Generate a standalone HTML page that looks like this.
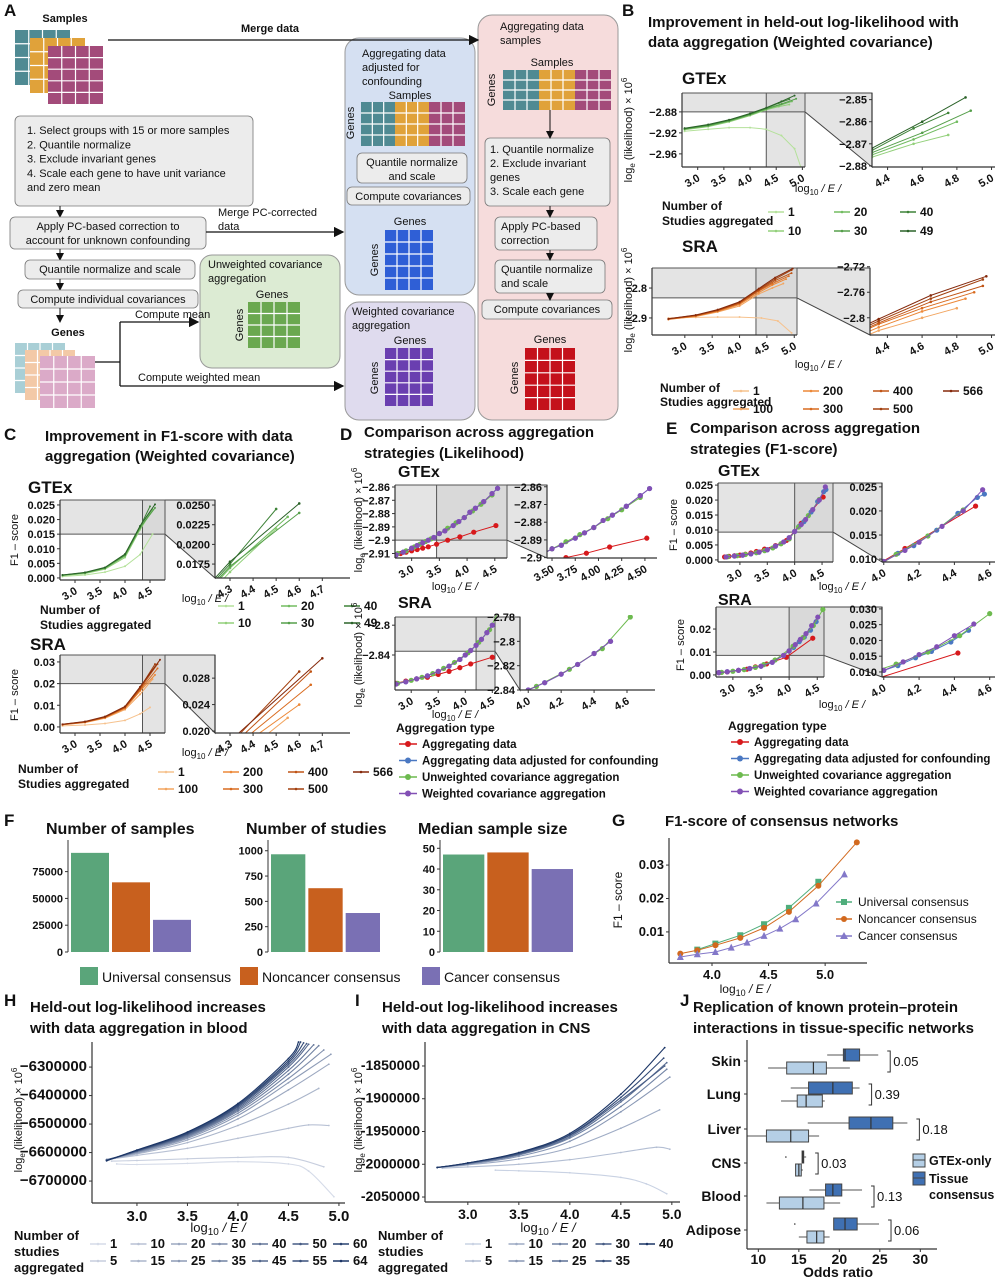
<!DOCTYPE html>
<html><head><meta charset="utf-8">
<style>
html,body{margin:0;padding:0;background:#fff;}
svg{display:block;font-family:"Liberation Sans",Arial,sans-serif;}
</style></head>
<body>
<svg id="fig" width="1003" height="1280" viewBox="0 0 1003 1280" xmlns="http://www.w3.org/2000/svg">
<defs>
<marker id="ar" markerWidth="8" markerHeight="8" refX="7" refY="4" orient="auto"><path d="M0,0 L8,4 L0,8 z" fill="#111"/></marker>
</defs>
</svg>
<script>
// ---------- DATA ----------
const bgCats=['1','10','20','30','40','49'];
const bgX=[[2.75,3.2,3.6,4.0,4.3,4.6,4.85,4.97],[2.75,3.2,3.6,4.0,4.31,4.55,4.75],[2.75,3.2,3.6,4.0,4.31,4.55,4.8],[2.75,3.2,3.6,4.0,4.31,4.6,4.88],[2.75,3.2,3.6,4.0,4.31,4.55,4.75],[2.75,3.2,3.6,4.0,4.31,4.6,4.85]];
const bgY=[[-2.917,-2.913,-2.91,-2.91,-2.913,-2.925,-2.95,-2.985],[-2.914,-2.908,-2.899,-2.887,-2.876,-2.870,-2.866],[-2.913,-2.907,-2.898,-2.886,-2.875,-2.868,-2.860],[-2.912,-2.906,-2.897,-2.885,-2.874,-2.865,-2.855],[-2.912,-2.905,-2.896,-2.884,-2.873,-2.863,-2.856],[-2.911,-2.904,-2.895,-2.883,-2.872,-2.860,-2.849]];
const bsCats=['1','100','200','300','400','500','566'];
const bsX=[[2.7,3.2,3.6,4.0,4.4,4.7,4.95],[2.7,3.2,3.6,4.0,4.35,4.6,4.8],[2.7,3.2,3.6,4.0,4.35,4.6,4.85],[2.7,3.2,3.6,4.0,4.35,4.6,4.9],[2.7,3.2,3.6,4.0,4.35,4.65,4.95],[2.7,3.2,3.6,4.0,4.35,4.65,4.95],[2.7,3.2,3.6,4.0,4.35,4.65,4.97]];
const bsY=[[-2.90,-2.898,-2.897,-2.897,-2.9,-2.91,-2.95],[-2.905,-2.895,-2.88,-2.86,-2.82,-2.80,-2.785],[-2.905,-2.894,-2.878,-2.855,-2.815,-2.79,-2.77],[-2.904,-2.893,-2.876,-2.852,-2.81,-2.785,-2.76],[-2.904,-2.892,-2.875,-2.85,-2.808,-2.775,-2.75],[-2.903,-2.891,-2.874,-2.848,-2.805,-2.77,-2.74],[-2.903,-2.89,-2.872,-2.846,-2.802,-2.765,-2.735]];
const cgX=[[2.75,3.2,3.6,4.0,4.3,4.55],[2.75,3.2,3.6,4.0,4.3,4.5],[2.75,3.2,3.6,4.0,4.3,4.55],[2.75,3.2,3.6,4.0,4.3,4.6],[2.75,3.2,3.6,4.0,4.3,4.5],[2.75,3.2,3.6,4.0,4.3,4.6]];
const cgY=[[.0005,.001,.002,.004,.008,.015],[.0008,.0015,.003,.007,.0165,.022],[.0009,.0017,.0033,.0075,.017,.0235],[.0009,.0018,.0034,.0078,.0172,.024],[.001,.0018,.0035,.008,.0175,.0245],[.001,.0019,.0036,.0082,.0178,.0252]];
const csX=[[2.75,3.2,3.6,4.0,4.3,4.5],[2.75,3.2,3.6,4.0,4.3,4.55],[2.75,3.2,3.6,4.0,4.3,4.6],[2.75,3.2,3.6,4.0,4.3,4.65],[2.75,3.2,3.6,4.0,4.3,4.65],[2.75,3.2,3.6,4.0,4.3,4.6],[2.75,3.2,3.6,4.0,4.3,4.7]];
const csY=[[.0005,.0009,.0016,.003,.006,.009],[.001,.002,.004,.008,.015,.022],[.001,.0021,.0042,.0085,.0165,.024],[.0011,.0022,.0044,.0088,.017,.027],[.0011,.0023,.0045,.009,.0175,.029],[.0012,.0024,.0046,.0092,.018,.029],[.0012,.0025,.0048,.0095,.0185,.031]];
const aggTypes=['Aggregating data','Aggregating data adjusted for confounding','Unweighted covariance aggregation','Weighted covariance aggregation'];
const dgX=[[2.72,2.8,2.9,3.0,3.1,3.2,3.3,3.45,3.65,3.87,4.12,4.52],[2.72,2.85,3.0,3.1,3.2,3.3,3.4,3.5,3.6,3.75,3.85,3.95,4.05,4.15,4.3,4.45,4.55],[2.75,2.9,3.05,3.15,3.25,3.35,3.5,3.65,3.8,3.95,4.1,4.25,4.45],[2.72,2.85,3.0,3.1,3.2,3.3,3.4,3.5,3.6,3.75,3.85,3.95,4.05,4.15,4.3,4.45,4.55]];
const dgY=[[-2.911,-2.910,-2.909,-2.908,-2.907,-2.906,-2.905,-2.903,-2.900,-2.8975,-2.894,-2.889],[-2.911,-2.909,-2.906,-2.904,-2.902,-2.900,-2.898,-2.895,-2.893,-2.889,-2.886,-2.883,-2.879,-2.876,-2.871,-2.865,-2.861],[-2.910,-2.908,-2.905,-2.903,-2.901,-2.899,-2.895,-2.891,-2.887,-2.883,-2.878,-2.873,-2.866],[-2.911,-2.909,-2.906,-2.904,-2.902,-2.900,-2.898,-2.895,-2.893,-2.889,-2.886,-2.883,-2.879,-2.876,-2.871,-2.865,-2.861]];
const dsX=[[2.72,2.9,3.1,3.3,3.5,3.7,3.9,4.1,4.5],[2.72,2.9,3.1,3.3,3.5,3.7,3.9,4.0,4.1,4.2,4.3,4.4,4.5],[2.75,3.0,3.2,3.4,3.6,3.8,4.05,4.25,4.45,4.62],[2.72,2.9,3.1,3.3,3.5,3.7,3.9,4.0,4.1,4.2,4.3,4.4,4.5]];
const dsY=[[-2.878,-2.875,-2.872,-2.870,-2.866,-2.862,-2.857,-2.852,-2.843],[-2.879,-2.876,-2.872,-2.868,-2.862,-2.855,-2.846,-2.840,-2.834,-2.827,-2.819,-2.810,-2.800],[-2.878,-2.874,-2.870,-2.865,-2.858,-2.850,-2.837,-2.823,-2.806,-2.780],[-2.879,-2.876,-2.872,-2.868,-2.862,-2.855,-2.846,-2.840,-2.834,-2.827,-2.819,-2.810,-2.800]];
const egX=[[2.72,2.8,2.9,3.0,3.1,3.2,3.3,3.45,3.65,3.85,4.12,4.52],[2.75,2.9,3.05,3.2,3.35,3.5,3.65,3.8,3.9,4.0,4.08,4.17,4.3,4.42,4.53,4.57],[2.78,2.95,3.1,3.3,3.45,3.6,3.75,3.9,4.07,4.25,4.45],[2.75,2.9,3.05,3.2,3.35,3.5,3.65,3.8,3.9,4.0,4.12,4.2,4.33,4.45,4.56]];
const egY=[[.001,.0012,.0014,.0016,.0019,.0023,.0028,.0036,.0048,.0065,.0122,.021],[.001,.0013,.0016,.002,.0026,.0034,.0046,.006,.0074,.0095,.0112,.0128,.016,.0195,.0228,.0235],[.0011,.0014,.0018,.0024,.0031,.004,.0054,.007,.011,.0148,.0202],[.001,.0013,.0016,.002,.0026,.0034,.0046,.006,.0074,.0095,.0118,.0135,.0168,.02,.0244]];
const esX=[[2.75,2.9,3.1,3.25,3.4,3.6,3.95,4.42],[2.75,2.9,3.1,3.3,3.5,3.7,3.9,4.0,4.08,4.18,4.27,4.38,4.48],[2.8,3.0,3.2,3.4,3.55,3.75,4.07,4.25,4.43,4.6],[2.75,2.9,3.1,3.3,3.5,3.7,3.9,4.0,4.11,4.2,4.3,4.4,4.51]];
const esY=[[.001,.0013,.002,.0025,.0035,.0048,.0077,.016],[.001,.0014,.002,.0028,.0038,.0055,.0085,.0105,.012,.0145,.0165,.0195,.0232],[.0011,.0016,.0023,.0033,.0045,.0065,.0125,.0163,.0215,.0285],[.001,.0014,.002,.0028,.0038,.0055,.0085,.0105,.0132,.0155,.018,.0215,.0252]];
const fCats=['Universal consensus','Noncancer consensus','Cancer consensus'];
const fSamples=[92500,65000,30000];
const fStudies=[965,630,385];
const fMedian=[47,48,40];
const gX=[[3.87,4.03,4.25,4.46,4.68,4.94],[3.72,3.87,4.03,4.25,4.46,4.68,4.94,5.28],[3.72,3.87,4.03,4.17,4.31,4.46,4.6,4.74,4.92,5.17]];
const gY=[[.0047,.0065,.009,.0123,.0172,.025],[.0035,.0045,.006,.0082,.0112,.016,.0238,.0368],[.0025,.0033,.004,.0053,.0068,.0088,.011,.0138,.0185,.0272]];
const hCats=['1','5','10','15','20','25','30','35','40','45','50','55','60','64'];
const hX=[[2.8,3.0,3.5,4.0,4.5,4.7,4.95],[2.75,3.0,3.5,4.0,4.5,4.85],[2.7,3.0,3.5,4.0,4.5,4.7,4.9],[2.7,3.0,3.5,4.0,4.5,4.8],[2.7,3.0,3.5,4.0,4.5,4.9],[2.7,3.0,3.5,4.0,4.5,4.92],[2.7,3.0,3.5,4.0,4.5,4.85],[2.7,3.0,3.5,4.0,4.5,4.8],[2.7,3.0,3.5,4.0,4.5,4.75],[2.7,3.0,3.5,4.0,4.5,4.7],[2.7,3.0,3.5,4.0,4.5,4.68],[2.7,3.0,3.5,4.0,4.5,4.65],[2.7,3.0,3.5,4.0,4.5,4.62],[2.7,3.0,3.5,4.0,4.5,4.6]];
const hY=[[-6640,-6642,-6638,-6632,-6640,-6665,-6755],[-6630,-6628,-6622,-6617,-6617,-6650],[-6625,-6610,-6585,-6550,-6515,-6503,-6505],[-6625,-6605,-6565,-6505,-6430,-6375],[-6625,-6602,-6556,-6482,-6380,-6290],[-6625,-6600,-6550,-6470,-6355,-6255],[-6625,-6598,-6546,-6462,-6340,-6240],[-6625,-6597,-6543,-6455,-6325,-6225],[-6626,-6596,-6540,-6450,-6312,-6222],[-6627,-6595,-6537,-6445,-6300,-6220],[-6627,-6594,-6535,-6440,-6292,-6218],[-6628,-6593,-6533,-6436,-6285,-6215],[-6628,-6592,-6530,-6432,-6278,-6212],[-6629,-6591,-6528,-6428,-6270,-6212]];
const iCats=['1','5','10','15','20','25','30','35','40'];
const iX=[[3.27,3.5,4.0,4.5,4.75,4.95],[2.75,3.0,3.5,4.0,4.5,4.85,4.98],[2.7,3.0,3.5,4.0,4.5,4.88],[2.7,3.0,3.5,4.0,4.5,4.98],[2.7,3.0,3.5,4.0,4.5,4.95],[2.7,3.0,3.5,4.0,4.5,4.95],[2.7,3.0,3.5,4.0,4.5,4.93],[2.7,3.0,3.5,4.0,4.5,4.92],[2.7,3.0,3.5,4.0,4.5,4.93]];
const iY=[[-2009,-2010,-2013,-2020,-2030,-2045],[-2006,-2004,-2000,-1993,-1982,-1974,-1977],[-2005,-2001,-1992,-1975,-1945,-1917],[-2005,-2000,-1988,-1965,-1920,-1867],[-2005,-1999,-1986,-1960,-1912,-1855],[-2005,-1999,-1985,-1958,-1905,-1845],[-2005,-1998,-1984,-1956,-1902,-1850],[-2005,-1998,-1983,-1955,-1898,-1838],[-2005,-1998,-1982,-1953,-1893,-1822]];
const jCats=['Skin','Lung','Liver','CNS','Blood','Adipose'];
const jTissue=[[18.5,20.5,20.7,22.5,24.8],[14,16.2,19.2,21.6,22.5],[16.1,21.2,23.9,26.6,28.4],[15.4,15.4,15.5,15.6,15.9],[16.3,18.3,19.2,20.3,22.8],[19.3,19.3,20.7,22.2,24.9]];
const jGtex=[[11.2,13.5,16.8,18.4,21.3],[12.8,14.8,15.9,17.9,18.2],[8.6,11,14,16.2,17.5],[14.6,14.6,15,15.3,15.5],[11,12.6,15.5,18.1,20.1],[15,16,17.2,18.1,18.8]];
const jP=['0.05','0.39','0.18','0.03','0.13','0.06'];

// ---------- HELPERS ----------
const NS='http://www.w3.org/2000/svg';
const svg=document.getElementById('fig');
let cc=0;
function el(tag,attrs,parent,name){const e=document.createElementNS(NS,tag);for(const k in attrs)e.setAttribute(k,attrs[k]);(parent||svg).appendChild(e);


return e;}
function tx(x,y,s,o,parent,name){o=o||{};const e=el('text',{x:x,y:y,'font-size':o.fs||11,'font-weight':o.fw||'bold',fill:o.fill||'#111','text-anchor':o.a||'start'},parent,name||'label');if(o.tr)e.setAttribute('transform',o.tr);e.textContent=s;return e;}
function rot(x,y,s,fs,parent,name){return tx(x,y,s,{fs:fs||11,fw:'normal',a:'middle',tr:'rotate(-90 '+x+' '+y+')'},parent,name);}
function grad(c1,c2,t){const a=[1,3,5].map(i=>parseInt(c1.substr(i,2),16)),b=[1,3,5].map(i=>parseInt(c2.substr(i,2),16));return 'rgb('+a.map((v,i)=>Math.round(v+(b[i]-v)*t)).join(',')+')';}
function ylab(x,y,parent){const e=el('text',{x:x,y:y,'font-size':11,fill:'#111','text-anchor':'middle',transform:'rotate(-90 '+x+' '+y+')'},parent,'y-axis-title');e.innerHTML='log<tspan font-size="8" dy="3">e</tspan><tspan dy="-3"> (likelihood) × 10</tspan><tspan font-size="8" dy="-5">6</tspan>';return e;}
function xlab(x,y,parent,fs){const e=el('text',{x:x,y:y,'font-size':fs||11,fill:'#111','text-anchor':'middle'},parent,'x-axis-title');e.innerHTML='log<tspan font-size="'+((fs||11)-3)+'" dy="3">10</tspan><tspan dy="-3" font-style="italic"> / E /</tspan>';return e;}
function pathD(P,smooth){
  if(!smooth||P.length<3)return P.map((p,j)=>(j?'L':'M')+p[0].toFixed(1)+','+p[1].toFixed(1)).join('');
  let d='M'+P[0][0].toFixed(1)+','+P[0][1].toFixed(1);
  for(let i=0;i<P.length-1;i++){const p0=P[i-1]||P[i],p1=P[i],p2=P[i+1],p3=P[i+2]||p2;
    const c1=[p1[0]+(p2[0]-p0[0])/6,p1[1]+(p2[1]-p0[1])/6],c2=[p2[0]-(p3[0]-p1[0])/6,p2[1]-(p3[1]-p1[1])/6];
    d+='C'+c1[0].toFixed(1)+','+c1[1].toFixed(1)+' '+c2[0].toFixed(1)+','+c2[1].toFixed(1)+' '+p2[0].toFixed(1)+','+p2[1].toFixed(1);}
  return d;
}
function chart(o){
  const g=el('g',{},svg,o.name);
  const sx=v=>o.x+(v-o.xd[0])/(o.xd[1]-o.xd[0])*o.w;
  const sy=v=>o.y+o.h-(v-o.yd[0])/(o.yd[1]-o.yd[0])*o.h;
  const id='clip'+(cc++);
  const cp=el('clipPath',{id:id},g,'clip');
  el('rect',{x:o.x,y:o.y-2,width:o.w+2,height:o.h+2},cp,'clip-rect');
  if(o.shade){
    const xv=sx(o.shade[0]),yv=sy(o.shade[1]);
    if(o.link){const L=o.link;
      el('polygon',{points:[o.x+o.w,o.y,L.x,L.y,L.x,L.y+L.h,o.x+o.w,yv].join(' '),fill:'#e4e4e4',stroke:'#444','stroke-width':1},g,'zoom-connector');}
    el('rect',{x:xv,y:o.y,width:o.x+o.w-xv,height:o.h,fill:'#e4e4e4'},g,'zoom-region-vertical');
    el('rect',{x:o.x,y:o.y,width:o.w,height:yv-o.y,fill:'#e4e4e4'},g,'zoom-region-horizontal');
    el('rect',{x:xv,y:o.y,width:o.x+o.w-xv,height:yv-o.y,fill:'#d9d9d9'},g,'zoom-region');
    el('line',{x1:xv,x2:xv,y1:o.y,y2:o.y+o.h,stroke:'#555','stroke-width':1},g,'zoom-line');
    el('line',{x1:o.x,x2:o.x+o.w,y1:yv,y2:yv,stroke:'#555','stroke-width':1},g,'zoom-line');
    el('line',{x1:o.x,x2:o.x+o.w,y1:o.y,y2:o.y,stroke:'#555','stroke-width':1},g,'zoom-line');
    el('line',{x1:o.x+o.w,x2:o.x+o.w,y1:o.y,y2:o.y+o.h,stroke:'#555','stroke-width':1},g,'zoom-line');
  }
  const sg=el('g',{'clip-path':'url(#'+id+')'},g,'series-group');
  o.sx.forEach((xs,i)=>{
    const ys=o.sy[i];const col=o.cols[i];
    const P=xs.map((v,j)=>[sx(v),sy(ys[j])]);
    el('path',{d:pathD(P,o.smooth),fill:'none',stroke:col,'stroke-width':o.lw||1},sg,'series-line');
    if(o.mk){xs.forEach((v,j)=>{
      if(o.shapes&&o.shapes[i]==='s')el('rect',{x:sx(v)-3,y:sy(ys[j])-3,width:6,height:6,fill:col},sg,'point');
      else if(o.shapes&&o.shapes[i]==='t'){const px=sx(v),py=sy(ys[j]);el('polygon',{points:[px,py-4,px-3.5,py+3,px+3.5,py+3].join(' '),fill:col},sg,'point');}
      else el('circle',{cx:sx(v),cy:sy(ys[j]),r:o.mk,fill:col},sg,'point');});}
  });
  el('line',{x1:o.x,x2:o.x,y1:o.y,y2:o.y+o.h,stroke:'#333','stroke-width':1.2},g,'y-axis');
  el('line',{x1:o.x,x2:o.x+o.w,y1:o.y+o.h,y2:o.y+o.h,stroke:'#333','stroke-width':1.2},g,'x-axis');
  o.yt.forEach((v,i)=>{const y=sy(v);el('line',{x1:o.x-3,x2:o.x,y1:y,y2:y,stroke:'#333'},g,'y-tick');tx(o.x-5,y+4,o.ytl[i],{fs:o.fs||11,a:'end'},g,'y-tick-label');});
  o.xt.forEach((v,i)=>{const x=sx(v);el('line',{x1:x,x2:x,y1:o.y+o.h,y2:o.y+o.h+3,stroke:'#333'},g,'x-tick');
    if(o.rot)tx(x+3,o.y+o.h+13,o.xtl[i],{fs:o.fs||11,a:'end',tr:'rotate(-30 '+(x+3)+' '+(o.y+o.h+13)+')'},g,'x-tick-label');
    else tx(x,o.y+o.h+(o.fs?o.fs+3:14),o.xtl[i],{fs:o.fs||11,a:'middle'},g,'x-tick-label');});
  return {sx,sy,g};
}
function legendLines(x0,y0,cats,cols,dx,dy,perRow,lab,fs){
  const g=el('g',{},svg,'legend');
  cats.forEach((c,i)=>{
    const r=i%2,k=Math.floor(i/2);
    const x=x0+k*dx,y=y0+r*dy;
    el('line',{x1:x,x2:x+16,y1:y-4,y2:y-4,stroke:cols[i],'stroke-width':1.5},g,'legend-swatch');
    el('circle',{cx:x+8,cy:y-4,r:1.3,fill:cols[i]},g,'legend-marker');
    tx(x+20,y,c,{fs:fs||12},g,'legend-entry');
  });
  return g;
}
function matrix(x,y,w,h,cols,rows,fill,name){
  const g=el('g',{},svg,name||'matrix');
  el('rect',{x:x,y:y,width:w,height:h,fill:fill},g,'matrix-body');
  for(let i=1;i<cols;i++)el('line',{x1:x+w*i/cols,x2:x+w*i/cols,y1:y,y2:y+h,stroke:'#fff','stroke-width':1.2},g,'grid');
  for(let i=1;i<rows;i++)el('line',{x1:x,x2:x+w,y1:y+h*i/rows,y2:y+h*i/rows,stroke:'#fff','stroke-width':1.2},g,'grid');
  return g;
}
function box(x,y,w,h,lines,fill,name,fs,ax){
  const g=el('g',{},svg,name);
  el('rect',{x:x,y:y,width:w,height:h,rx:5,fill:fill||'#ececec',stroke:'#777','stroke-width':0.8},g,'box-bg');
  lines.forEach((s,i)=>tx(ax===undefined?x+w/2:ax,y+13+i*14,s,{fs:fs||11,fw:'normal',a:ax===undefined?'middle':'start'},g,'box-text'));
  return g;
}
function arrow(pts,name){return el('polyline',{points:pts.join(' '),fill:'none',stroke:'#111','stroke-width':1.3,'marker-end':'url(#ar)'},svg,name||'arrow');}

// ---------- PANEL A ----------
tx(4,16,'A',{fs:17});
el('rect',{x:200,y:255,width:140,height:113,rx:12,fill:'#dcebd3',stroke:'#999'},svg,'unweighted-panel');
el('rect',{x:345,y:38,width:130,height:257,rx:14,fill:'#d5e0f2',stroke:'#999'},svg,'adjusted-panel');
el('rect',{x:345,y:302,width:130,height:118,rx:14,fill:'#dfdbee',stroke:'#999'},svg,'weighted-panel');
el('rect',{x:478,y:15,width:140,height:405,rx:14,fill:'#f6dcdc',stroke:'#999'},svg,'aggregating-panel');
tx(65,22,'Samples',{fs:11,a:'middle'});
rot(32,58,'Genes',11).setAttribute('font-weight','bold');
matrix(15,30,55,55,4,4,'#4f8a93','matrix-teal');
matrix(30,38,55,55,4,4,'#e0a23a','matrix-orange');
matrix(48,46,55,58,4,5,'#a34b7a','matrix-purple');
arrow([108,40,478,40],'merge-data-arrow');tx(270,32,'Merge data',{fs:11,fw:'bold',a:'middle'});
box(15,116,238,90,[],'#ececec','step-box');
['1. Select groups with 15 or more samples','2. Quantile normalize','3. Exclude invariant genes','4. Scale each gene to have unit variance','and zero mean'].forEach((s,i)=>tx(27,134+i*14.3,s,{fs:11,fw:'normal'}));
el('line',{x1:60,x2:60,y1:206,y2:217,stroke:'#111','marker-end':'url(#ar)'},svg,'arrow');
box(10,217,196,32,['Apply PC-based correction to','account for unknown confounding'],'#ececec','pc-correction-box');
arrow([206,232,343,232],'merge-pc-arrow');tx(218,216,'Merge PC-corrected',{fs:11,fw:'normal'});tx(218,230,'data',{fs:11,fw:'normal'});
el('line',{x1:60,x2:60,y1:249,y2:260,stroke:'#111','marker-end':'url(#ar)'},svg,'arrow');
box(25,260,170,19,['Quantile normalize and scale'],'#ececec','quantile-box');
el('line',{x1:60,x2:60,y1:279,y2:290,stroke:'#111','marker-end':'url(#ar)'},svg,'arrow');
box(18,290,180,18,['Compute individual covariances'],'#ececec','covariance-box');
el('line',{x1:60,x2:60,y1:308,y2:322,stroke:'#111','marker-end':'url(#ar)'},svg,'arrow');
tx(68,336,'Genes',{fs:11,a:'middle'});
rot(32,375,'Genes',11).setAttribute('font-weight','bold');
matrix(15,343,50,50,4,4,'#a9cfd6','matrix-light-teal');
matrix(25,350,50,50,4,4,'#f3c9a7','matrix-peach');
matrix(40,356,55,52,4,4,'#dbaac8','matrix-pink');
el('line',{x1:95,x2:120,y1:362,y2:362,stroke:'#111','stroke-width':1.3},svg,'connector');
el('line',{x1:120,x2:120,y1:322,y2:386,stroke:'#111','stroke-width':1.3},svg,'connector');
arrow([120,322,198,322],'mean-arrow');tx(135,318,'Compute mean',{fs:11,fw:'normal'});
arrow([120,386,343,386],'weighted-mean-arrow');tx(138,381,'Compute weighted mean',{fs:11,fw:'normal'});
tx(208,268,'Unweighted covariance',{fs:11,fw:'normal'});tx(208,282,'aggregation',{fs:11,fw:'normal'});
tx(272,298,'Genes',{fs:11,fw:'normal',a:'middle'});rot(243,325,'Genes',11);
matrix(248,302,52,46,4,4,'#6aa84f','matrix-green');
['Aggregating data','adjusted for','confounding'].forEach((s,i)=>tx(362,57+i*14,s,{fs:11,fw:'normal'}));
tx(410,99,'Samples',{fs:11,fw:'normal',a:'middle'});rot(354,123,'Genes',11);
matrix(361,102,34,44,3,4,'#4f8a93','matrix-teal-2');matrix(395,102,34,44,3,4,'#e0a23a','matrix-orange-2');matrix(429,102,36,44,3,4,'#a34b7a','matrix-purple-2');
box(357,153,110,30,['Quantile normalize','and scale'],'#ececec','quantile-box-2');
box(347,187,123,18,['Compute covariances'],'#ececec','covariance-box-2');
tx(410,225,'Genes',{fs:11,fw:'normal',a:'middle'});rot(378,260,'Genes',11);
matrix(385,230,48,60,4,5,'#2f5fd6','matrix-blue');
tx(352,315,'Weighted covariance',{fs:11,fw:'normal'});tx(352,329,'aggregation',{fs:11,fw:'normal'});
tx(410,344,'Genes',{fs:11,fw:'normal',a:'middle'});rot(378,378,'Genes',11);
matrix(385,348,48,58,4,5,'#6a3fb0','matrix-violet');
tx(500,30,'Aggregating data',{fs:11,fw:'normal'});tx(500,44,'samples',{fs:11,fw:'normal'});
tx(552,66,'Samples',{fs:11,fw:'normal',a:'middle'});rot(495,90,'Genes',11);
matrix(503,70,36,40,3,4,'#4f8a93','matrix-teal-3');matrix(539,70,36,40,3,4,'#e0a23a','matrix-orange-3');matrix(575,70,36,40,3,4,'#a34b7a','matrix-purple-3');
box(485,138,125,68,[],'#ececec','pink-steps-box');
['1. Quantile normalize','2. Exclude invariant','genes','3. Scale each gene'].forEach((s,i)=>tx(490,153+i*14,s,{fs:11,fw:'normal'}));
box(495,217,102,33,['Apply PC-based','correction'],'#ececec','pc-box-2',11,501);
box(495,260,110,33,['Quantile normalize','and scale'],'#ececec','quantile-box-3',11,501);
box(482,300,130,19,['Compute covariances'],'#ececec','covariance-box-3');
[[550,110,550,138],[550,206,550,217],[550,250,550,260],[550,293,550,300]].forEach(p=>el('line',{x1:p[0],y1:p[1],x2:p[2],y2:p[3],stroke:'#111','marker-end':'url(#ar)'},svg,'arrow'));
tx(550,343,'Genes',{fs:11,fw:'normal',a:'middle'});rot(518,378,'Genes',11);
matrix(525,348,50,62,4,5,'#c4111b','matrix-red');

// ---------- PANEL B ----------
tx(622,16,'B',{fs:17});
tx(648,27,'Improvement in held-out log-likelihood with',{fs:15});
tx(648,47,'data aggregation (Weighted covariance)',{fs:15});
tx(682,84,'GTEx',{fs:17});
const greens=['#b4e19a','#93d07b','#72bc61','#559f4a','#3e8338','#2a6228'];
chart({name:'b-gtex-main',x:682,y:93,w:123,h:74,xd:[2.7,5.05],yd:[-2.985,-2.844],sx:bgX,sy:bgY,cols:greens,mk:1,xt:[3,3.5,4,4.5,5],xtl:['3.0','3.5','4.0','4.5','5.0'],yt:[-2.88,-2.92,-2.96],ytl:['−2.88','−2.92','−2.96'],shade:[4.31,-2.88],link:{x:872,y:93,h:74},rot:1});
chart({name:'b-gtex-inset',x:872,y:93,w:123,h:74,xd:[4.31,5.02],yd:[-2.8805,-2.847],sx:bgX,sy:bgY,cols:greens,mk:1.3,xt:[4.4,4.6,4.8,5.0],xtl:['4.4','4.6','4.8','5.0'],yt:[-2.85,-2.86,-2.87,-2.88],ytl:['−2.85','−2.86','−2.87','−2.88'],rot:1});
ylab(632,130);xlab(818,192);
tx(662,210,'Number of',{fs:12});tx(662,225,'Studies aggregated',{fs:12});
legendLines(768,216,bgCats,greens,66,19,3);
tx(682,252,'SRA',{fs:17});
const oranges=['#f6c28e','#f2a560','#ec8838','#d96b1f','#c05415','#a3410f','#85290b'];
chart({name:'b-sra-main',x:652,y:268,w:145,h:67,xd:[2.4,5.05],yd:[-2.957,-2.733],sx:bsX,sy:bsY,cols:oranges,mk:1,xt:[3,3.5,4,4.5,5],xtl:['3.0','3.5','4.0','4.5','5.0'],yt:[-2.8,-2.9],ytl:['−2.8','−2.9'],shade:[4.3,-2.833],link:{x:870,y:268,h:67},rot:1});
chart({name:'b-sra-inset',x:870,y:268,w:125,h:67,xd:[4.3,5.02],yd:[-2.827,-2.722],sx:bsX,sy:bsY,cols:oranges,mk:1.3,xt:[4.4,4.6,4.8,5.0],xtl:['4.4','4.6','4.8','5.0'],yt:[-2.72,-2.76,-2.8],ytl:['−2.72','−2.76','−2.8'],rot:1});
ylab(632,300);xlab(818,368);
tx(660,392,'Number of',{fs:12});tx(660,406,'Studies aggregated',{fs:12});
legendLines(733,395,bsCats,oranges,70,18,4);

// ---------- PANEL C ----------
tx(4,440,'C',{fs:17});
tx(45,441,'Improvement in F1-score with data',{fs:15});
tx(45,461,'aggregation (Weighted covariance)',{fs:15});
tx(28,493,'GTEx',{fs:17});
chart({name:'c-gtex-main',x:60,y:500,w:105,h:80,xd:[2.7,4.8],yd:[-0.0007,0.0267],sx:cgX,sy:cgY,cols:greens,mk:1,xt:[3,3.5,4,4.5],xtl:['3.0','3.5','4.0','4.5'],yt:[0,.005,.01,.015,.02,.025],ytl:['0.000','0.005','0.010','0.015','0.020','0.025'],shade:[4.35,.015],link:{x:215,y:500,h:78},rot:1});
chart({name:'c-gtex-inset',x:215,y:500,w:135,h:78,xd:[4.235,4.82],yd:[.01573,.02564],sx:cgX,sy:cgY,cols:greens,mk:1.3,xt:[4.3,4.4,4.5,4.6,4.7],xtl:['4.3','4.4','4.5','4.6','4.7'],yt:[.025,.0225,.02,.0175],ytl:['0.0250','0.0225','0.0200','0.0175'],rot:1});
rot(18,540,'F1 – score',11);xlab(205,602);
tx(40,614,'Number of',{fs:12});tx(40,629,'Studies aggregated',{fs:12});
legendLines(218,610,bgCats,greens,63,17,3);
tx(30,650,'SRA',{fs:17});
chart({name:'c-sra-main',x:60,y:655,w:105,h:78,xd:[2.7,4.8],yd:[-0.0028,.0332],sx:csX,sy:csY,cols:oranges,mk:1,xt:[3,3.5,4,4.5],xtl:['3.0','3.5','4.0','4.5'],yt:[0,.01,.02,.03],ytl:['0.00','0.01','0.02','0.03'],shade:[4.35,.02],link:{x:215,y:655,h:78},rot:1});
chart({name:'c-sra-inset',x:215,y:655,w:135,h:78,xd:[4.235,4.82],yd:[.0197,.0315],sx:csX,sy:csY,cols:oranges,mk:1.3,xt:[4.3,4.4,4.5,4.6,4.7],xtl:['4.3','4.4','4.5','4.6','4.7'],yt:[.028,.024,.02],ytl:['0.028','0.024','0.020'],rot:1});
rot(18,695,'F1 – score',11);xlab(205,756);
tx(18,773,'Number of',{fs:12});tx(18,788,'Studies aggregated',{fs:12});
legendLines(158,776,bsCats,oranges,65,17,4);

// ---------- PANEL D ----------
const aggCols=['#d7191c','#4a78c2','#6dba4f','#8250b5'];
tx(340,440,'D',{fs:17});
tx(364,437,'Comparison across aggregation',{fs:15});tx(364,458,'strategies (Likelihood)',{fs:15});
tx(398,477,'GTEx',{fs:16});
chart({name:'d-gtex-main',x:395,y:485,w:112,h:73,xd:[2.7,4.72],yd:[-2.9134,-2.8585],sx:dgX,sy:dgY,cols:aggCols,mk:2.6,xt:[3,3.5,4,4.5],xtl:['3.0','3.5','4.0','4.5'],yt:[-2.86,-2.87,-2.88,-2.89,-2.9,-2.91],ytl:['−2.86','−2.87','−2.88','−2.89','−2.9','−2.91'],shade:[3.45,-2.9],link:{x:547,y:485,h:73},rot:1});
chart({name:'d-gtex-inset',x:547,y:485,w:110,h:73,xd:[3.446,4.63],yd:[-2.9002,-2.859],sx:dgX,sy:dgY,cols:aggCols,mk:2.6,xt:[3.5,3.75,4,4.25,4.5],xtl:['3.50','3.75','4.00','4.25','4.50'],yt:[-2.86,-2.87,-2.88,-2.89,-2.9],ytl:['−2.86','−2.87','−2.88','−2.89','−2.9'],rot:1});
tx(398,608,'SRA',{fs:16});
chart({name:'d-sra-main',x:395,y:617,w:100,h:73,xd:[2.7,4.55],yd:[-2.887,-2.789],sx:dsX,sy:dsY,cols:aggCols,mk:2.6,xt:[3,3.5,4,4.5],xtl:['3.0','3.5','4.0','4.5'],yt:[-2.8,-2.84],ytl:['−2.8','−2.84'],shade:[4.2,-2.835],link:{x:520,y:617,h:73},rot:1});
chart({name:'d-sra-inset',x:520,y:617,w:135,h:73,xd:[3.95,4.77],yd:[-2.84,-2.78],sx:dsX,sy:dsY,cols:aggCols,mk:2.6,xt:[4,4.2,4.4,4.6],xtl:['4.0','4.2','4.4','4.6'],yt:[-2.78,-2.8,-2.82,-2.84],ytl:['−2.78','−2.8','−2.82','−2.84'],rot:1});
ylab(362,520);ylab(362,655);xlab(455,590);xlab(455,718);
function aggLegend(x,y){tx(x,y,'Aggregation type',{fs:12});aggTypes.forEach((s,i)=>{const yy=y+16+i*16.5;
 el('line',{x1:x+3,x2:x+21,y1:yy-4,y2:yy-4,stroke:aggCols[i],'stroke-width':1.5},svg,'legend-swatch');
 el('circle',{cx:x+12,cy:yy-4,r:3,fill:aggCols[i]},svg,'legend-marker');
 tx(x+26,yy,s,{fs:11.5},svg,'legend-entry');});}
aggLegend(396,732);

// ---------- PANEL E ----------
tx(666,434,'E',{fs:17});
tx(690,433,'Comparison across aggregation',{fs:15});tx(690,454,'strategies (F1-score)',{fs:15});
tx(718,476,'GTEx',{fs:16});
chart({name:'e-gtex-main',x:718,y:483,w:115,h:79,xd:[2.6,4.7],yd:[-0.0007,.0257],sx:egX,sy:egY,cols:aggCols,mk:2.6,xt:[3,3.5,4,4.5],xtl:['3.0','3.5','4.0','4.5'],yt:[0,.005,.01,.015,.02,.025],ytl:['0.000','0.005','0.010','0.015','0.020','0.025'],shade:[4.0,.0093],link:{x:882,y:483,h:79},rot:1});
chart({name:'e-gtex-inset',x:882,y:483,w:113,h:79,xd:[3.99,4.63],yd:[.0094,.0258],sx:egX,sy:egY,cols:aggCols,mk:2.6,xt:[4,4.2,4.4,4.6],xtl:['4.0','4.2','4.4','4.6'],yt:[.025,.02,.015,.01],ytl:['0.025','0.020','0.015','0.010'],rot:1});
tx(718,605,'SRA',{fs:16});
chart({name:'e-sra-main',x:716,y:607,w:108,h:70,xd:[2.7,4.62],yd:[-0.0009,.0296],sx:esX,sy:esY,cols:aggCols,mk:2.6,xt:[3,3.5,4,4.5],xtl:['3.0','3.5','4.0','4.5'],yt:[0,.01,.02],ytl:['0.00','0.01','0.02'],shade:[4.0,.0085],link:{x:882,y:607,h:70},rot:1});
chart({name:'e-sra-inset',x:882,y:607,w:113,h:70,xd:[3.99,4.63],yd:[.0084,.0306],sx:esX,sy:esY,cols:aggCols,mk:2.6,xt:[4,4.2,4.4,4.6],xtl:['4.0','4.2','4.4','4.6'],yt:[.03,.025,.02,.015,.01],ytl:['0.030','0.025','0.020','0.015','0.010'],rot:1});
rot(677,525,'F1 – score',11);rot(684,645,'F1 – score',11);xlab(842,590);xlab(842,708);
aggLegend(728,730);

// ---------- PANEL F ----------
const fCols=['#5aa57a','#c8601e','#7a70b4'];
tx(4,826,'F',{fs:17});
function barChart(name,x0,title,vals,ymax,ticks,tl,w){
  const g=el('g',{},svg,name);
  const top=840,bot=952,h=bot-top;const sy=v=>bot-v/ymax*h;
  tx(x0-22,834,title,{fs:16},g,'bar-title');
  const bw=w/3;
  vals.forEach((v,i)=>{el('rect',{x:x0+3+i*bw,y:sy(v),width:bw-3,height:bot-sy(v),fill:fCols[i]},g,'bar-'+i);});
  el('line',{x1:x0,x2:x0,y1:top,y2:bot,stroke:'#333'},g,'y-axis');
  ticks.forEach((t,i)=>{el('line',{x1:x0-3,x2:x0,y1:sy(t),y2:sy(t),stroke:'#333'},g,'y-tick');tx(x0-5,sy(t)+4,tl[i],{fs:11,a:'end'},g,'y-tick-label');});
}
barChart('bar-samples',68,'Number of samples',fSamples,104500,[0,25000,50000,75000],['0','25000','50000','75000'],123);
barChart('bar-studies',268,'Number of studies',fStudies,1106,[0,250,500,750,1000],['0','250','500','750','1000'],112);
barChart('bar-median',440,'Median sample size',fMedian,54,[0,10,20,30,40,50],['0','10','20','30','40','50'],133);
fCats.forEach((c,i)=>{const xs=[80,240,422][i];el('rect',{x:xs,y:967,width:18,height:18,fill:fCols[i]},svg,'legend-swatch');tx(xs+22,982,c,{fs:14,fw:'normal'},svg,'legend-entry');});

// ---------- PANEL G ----------
tx(612,826,'G',{fs:17});
tx(665,826,'F1-score of consensus networks',{fs:15});
const gCols=['#4fae7c','#d2691e','#8378c9'];
chart({name:'g-chart',x:669,y:838,w:198,h:125,xd:[3.62,5.37],yd:[.0007,.0381],sx:gX,sy:gY,cols:gCols,mk:3,shapes:['s','c','t'],xt:[4,4.5,5],xtl:['4.0','4.5','5.0'],yt:[.01,.02,.03],ytl:['0.01','0.02','0.03'],fs:13});
rot(622,900,'F1 – score',12);xlab(745,993,null,12);
['Universal consensus','Noncancer consensus','Cancer consensus'].forEach((s,i)=>{const y=906+i*17;
 el('line',{x1:836,x2:852,y1:y-4,y2:y-4,stroke:gCols[i],'stroke-width':1.5},svg,'legend-swatch');
 if(i===0)el('rect',{x:841,y:y-7,width:6,height:6,fill:gCols[i]},svg,'legend-marker');
 else if(i===1)el('circle',{cx:844,cy:y-4,r:3,fill:gCols[i]},svg,'legend-marker');
 else el('polygon',{points:'844,'+(y-8)+' 840,'+(y-1)+' 848,'+(y-1),fill:gCols[i]},svg,'legend-marker');
 tx(858,y,s,{fs:12,fw:'normal'},svg,'legend-entry');});

// ---------- PANEL H ----------
tx(4,1006,'H',{fs:17});
tx(30,1012,'Held-out log-likelihood increases',{fs:15});tx(30,1033,'with data aggregation in blood',{fs:15});
const hCols=hCats.map((c,i)=>grad('#d5dbe8','#1b3566',i/(hCats.length-1)));
chart({name:'h-chart',x:92,y:1042,w:253,h:161,xd:[2.555,5.06],yd:[-6777,-6212],sx:hX,sy:hY,cols:hCols,lw:1.1,mk:0.9,smooth:1,xt:[3,3.5,4,4.5,5],xtl:['3.0','3.5','4.0','4.5','5.0'],yt:[-6300,-6400,-6500,-6600,-6700],ytl:['−6300000','−6400000','−6500000','−6600000','−6700000'],fs:15});
ylab(22,1120);xlab(218,1232,null,13);
tx(14,1240,'Number of',{fs:13});tx(14,1256,'studies',{fs:13});tx(14,1272,'aggregated',{fs:13});
legendLines(90,1248,hCats,hCols,40.5,17,7,null,13);

// ---------- PANEL I ----------
tx(355,1006,'I',{fs:17});
tx(382,1012,'Held-out log-likelihood increases',{fs:15});tx(382,1033,'with data aggregation in CNS',{fs:15});
const iCols=iCats.map((c,i)=>grad('#c9d2e3','#1b3566',i/(iCats.length-1)));
chart({name:'i-chart',x:425,y:1042,w:255,h:160,xd:[2.58,5.08],yd:[-2057.6,-1813.4],sx:iX,sy:iY,cols:iCols,lw:1.1,mk:0.9,smooth:1,xt:[3,3.5,4,4.5,5],xtl:['3.0','3.5','4.0','4.5','5.0'],yt:[-1850,-1900,-1950,-2000,-2050],ytl:['-1850000','-1900000','-1950000','-2000000','-2050000'],fs:14});
ylab(362,1120);xlab(548,1232,null,13);
tx(378,1240,'Number of',{fs:13});tx(378,1256,'studies',{fs:13});tx(378,1272,'aggregated',{fs:13});
legendLines(465,1248,iCats,iCols,43.5,17,5,null,13);

// ---------- PANEL J ----------
tx(680,1006,'J',{fs:17});
tx(693,1012,'Replication of known protein–protein',{fs:15});tx(693,1033,'interactions in tissue-specific networks',{fs:15});
(function(){
  const g=el('g',{},svg,'j-chart');
  const x0=747,x1=937,top=1040,bot=1249;const sx=v=>x0+(v-8.6)*8.1;
  const cy=[1061,1094,1129,1163,1196,1230];
  function bp(q,y,fill,nm){
    el('line',{x1:sx(q[0]),x2:sx(q[4]),y1:y,y2:y,stroke:'#555'},g,nm+'-whisker');
    el('rect',{x:sx(q[1]),y:y-6,width:Math.max(1,sx(q[3])-sx(q[1])),height:12,fill:fill,stroke:'#444'},g,nm+'-box');
    el('line',{x1:sx(q[2]),x2:sx(q[2]),y1:y-6,y2:y+6,stroke:'#333','stroke-width':1.2},g,nm+'-median');
  }
  jCats.forEach((c,i)=>{
    bp(jTissue[i],cy[i]-6,'#3f70b3','tissue-'+c.toLowerCase());
    bp(jGtex[i],cy[i]+7,'#b5cfe6','gtex-'+c.toLowerCase());
    tx(x0-6,cy[i]+5,c,{fs:14,a:'end'},g,'category-label');
    el('line',{x1:x0-3,x2:x0,y1:cy[i],y2:cy[i],stroke:'#333'},g,'y-tick');
    const bx=sx(Math.max(jTissue[i][4],jGtex[i][4]))+12;
    el('polyline',{points:[bx-3,cy[i]-10,bx,cy[i]-10,bx,cy[i]+11,bx-3,cy[i]+11].join(' '),fill:'none',stroke:'#333'},g,'p-bracket');
    tx(bx+3,cy[i]+5,jP[i],{fs:13,fw:'normal'},g,'p-value');
  });
  el('circle',{cx:sx(13.4),cy:1157,r:0.8,fill:'#333'},g,'outlier');
  el('circle',{cx:sx(14.5),cy:1224,r:0.8,fill:'#333'},g,'outlier');
  el('line',{x1:x0,x2:x0,y1:top,y2:bot,stroke:'#333','stroke-width':1.2},g,'y-axis');
  el('line',{x1:x0,x2:x1,y1:bot,y2:bot,stroke:'#333','stroke-width':1.2},g,'x-axis');
  [10,15,20,25,30].forEach(v=>{el('line',{x1:sx(v),x2:sx(v),y1:bot,y2:bot+3,stroke:'#333'},g,'x-tick');tx(sx(v),bot+15,String(v),{fs:14,a:'middle'},g,'x-tick-label');});
  tx(838,1277,'Odds ratio',{fs:14,a:'middle'},g,'x-axis-title');
  el('rect',{x:913,y:1154,width:12,height:13,fill:'#b5cfe6',stroke:'#444'},g,'legend-swatch');
  el('line',{x1:913,x2:925,y1:1160,y2:1160,stroke:'#444'},g,'legend-swatch-median');
  tx(929,1165,'GTEx-only',{fs:12.5},g,'legend-entry');
  el('rect',{x:913,y:1172,width:12,height:13,fill:'#3f70b3',stroke:'#444'},g,'legend-swatch');
  el('line',{x1:913,x2:925,y1:1178,y2:1178,stroke:'#444'},g,'legend-swatch-median');
  tx(929,1183,'Tissue',{fs:12.5},g,'legend-entry');tx(929,1199,'consensus',{fs:12.5},g,'legend-entry');
})();
</script>
</body></html>
